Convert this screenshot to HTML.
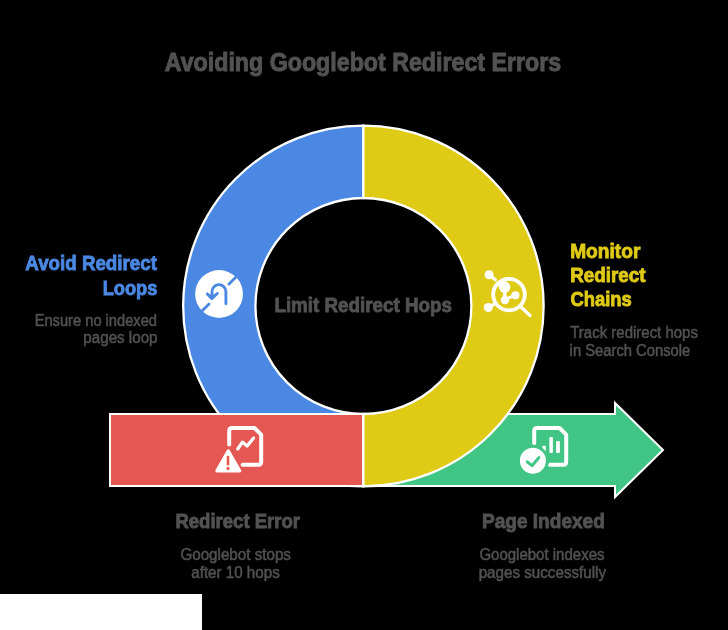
<!DOCTYPE html>
<html><head><meta charset="utf-8">
<style>
html,body{margin:0;padding:0;background:#000;width:728px;height:630px;overflow:hidden}
svg{position:absolute;left:0;top:0;display:block;will-change:transform}
text{font-family:"Liberation Sans",sans-serif}
.b{font-weight:bold}
</style></head>
<body>
<svg width="728" height="630" viewBox="0 0 728 630">
<rect x="0" y="0" width="728" height="630" fill="#000"/>
<path d="M363.4 125.7 A180.3 180.3 0 0 0 363.4 486.3 L363.4 414 A108 108 0 0 1 363.4 198 Z" fill="#4a88e3" stroke="#fff" stroke-width="2.3"/>
<rect x="110" y="414" width="253" height="72" fill="#e45753" stroke="#fff" stroke-width="2"/>
<path d="M363 414 H615 V403 L663 450 L615 497 V486 H363 Z" fill="#40c585" stroke="#fff" stroke-width="2"/>
<path d="M363.4 125.7 A180.3 180.3 0 0 1 363.4 486.3 L363.4 414 A108 108 0 0 0 363.4 198 Z" fill="#dfca16" stroke="#fff" stroke-width="2.3"/>
<!-- icon 1: no u-turn -->
<g>
<circle cx="219.05" cy="294" r="23.9" fill="#fff"/>
<g stroke="#4a88e3" stroke-width="2.9" stroke-linecap="round" fill="none">
<line x1="229" y1="284" x2="245" y2="268"/>
<line x1="209" y1="304" x2="193" y2="320"/>
<path d="M225.9 303.7 V291.6 A6.95 6.95 0 0 0 212 291.6 V298"/>
<path d="M207.4 293.9 L211.7 298.6 L217.3 293.5" stroke-linejoin="round"/>
<path d="M208.6 294.6 L211.7 298.4 L215.9 294.5 Z" fill="#4a88e3" stroke="none"/>
</g>
</g>
<!-- icon 2: magnifier with nodes -->
<g fill="#fff" stroke="#fff">
<circle cx="509" cy="294.6" r="15.8" fill="none" stroke-width="3.8"/>
<line x1="521.5" y1="307.5" x2="530" y2="315.5" stroke-width="3.4" stroke-linecap="round"/>
<circle cx="489.1" cy="274.7" r="4.5" stroke="none"/>
<line x1="489.1" y1="274.7" x2="495.3" y2="279.8" stroke-width="3.4" stroke-linecap="round"/>
<circle cx="488.3" cy="307.5" r="4.5" stroke="none"/>
<line x1="488.3" y1="307.5" x2="494.5" y2="304" stroke-width="3.4"/>
<circle cx="504.7" cy="287.2" r="5.6" stroke="none"/>
<circle cx="503.4" cy="285.6" r="5" stroke="none"/>
<circle cx="505" cy="300" r="4.2" stroke="none"/>
<circle cx="515.4" cy="295.3" r="4.1" stroke="none"/>
<line x1="504.6" y1="287.4" x2="505" y2="299.7" stroke-width="3.4"/>
<line x1="505" y1="299.7" x2="515.3" y2="295" stroke-width="3"/>
</g>
<!-- icon 3: doc + warning -->
<g>
<path d="M229.2 444.6 V431 Q229.2 428 232.2 428 H254.5 L261.2 434.7 V461.8 Q261.2 464.8 258.2 464.8 H242.6" fill="none" stroke="#fff" stroke-width="4" stroke-linecap="round" stroke-linejoin="round"/>
<path d="M237.7 449 L242.4 442.1 L247.1 446 L253.6 437.9" fill="none" stroke="#fff" stroke-width="3.2" stroke-linecap="round" stroke-linejoin="round"/>
<path d="M228.3 451 L239.6 470.8 L217 470.8 Z" fill="#fff" stroke="#fff" stroke-width="3.4" stroke-linejoin="round"/>
<line x1="228" y1="457" x2="228" y2="464.2" stroke="#e45753" stroke-width="2.6" stroke-linecap="round"/>
<circle cx="228" cy="468.4" r="1.6" fill="#e45753"/>
</g>
<!-- icon 4: doc + check -->
<g>
<path d="M534.2 443.3 V431 Q534.2 428 537.2 428 H559.5 L566.2 434.7 V461.8 Q566.2 464.8 563.2 464.8 H549.8" fill="none" stroke="#fff" stroke-width="4" stroke-linecap="round" stroke-linejoin="round"/>
<rect x="549.4" y="437" width="3.5" height="15.9" rx="1" fill="#fff"/>
<rect x="556.1" y="440.9" width="3.8" height="12" rx="1" fill="#fff"/>
<rect x="542.3" y="445.8" width="3.5" height="7" rx="1" fill="#fff"/>
<circle cx="532.9" cy="460.8" r="16" fill="#40c585"/>
<circle cx="532.9" cy="460.8" r="13" fill="#fff"/>
<path d="M527.3 461.9 L532 465.7 L538.9 457.6" fill="none" stroke="#40c585" stroke-width="3" stroke-linecap="round" stroke-linejoin="round"/>
</g>

<text class="b" x="164.81" y="70.70" font-size="26.7" fill="#525252" stroke="#525252" stroke-width="1.0" textLength="396.38" lengthAdjust="spacingAndGlyphs">Avoiding Googlebot Redirect Errors</text>
<text class="b" x="25.32" y="270.40" font-size="20.8" fill="#4a88e3" stroke="#4a88e3" stroke-width="0.9" textLength="131.56" lengthAdjust="spacingAndGlyphs">Avoid Redirect</text>
<text class="b" x="102.66" y="294.60" font-size="20.8" fill="#4a88e3" stroke="#4a88e3" stroke-width="0.9" textLength="54.73" lengthAdjust="spacingAndGlyphs">Loops</text>
<text x="34.68" y="325.80" font-size="15.6" fill="#525252" stroke="#525252" stroke-width="0.5" textLength="122.33" lengthAdjust="spacingAndGlyphs">Ensure no indexed</text>
<text x="83.37" y="343.30" font-size="15.6" fill="#525252" stroke="#525252" stroke-width="0.5" textLength="74.15" lengthAdjust="spacingAndGlyphs">pages loop</text>
<text class="b" x="570.18" y="258.20" font-size="20.8" fill="#dfca16" stroke="#dfca16" stroke-width="0.9" textLength="70.18" lengthAdjust="spacingAndGlyphs">Monitor</text>
<text class="b" x="570.25" y="282.10" font-size="20.8" fill="#dfca16" stroke="#dfca16" stroke-width="0.9" textLength="75.25" lengthAdjust="spacingAndGlyphs">Redirect</text>
<text class="b" x="570.59" y="306.00" font-size="20.8" fill="#dfca16" stroke="#dfca16" stroke-width="0.9" textLength="61.21" lengthAdjust="spacingAndGlyphs">Chains</text>
<text x="570.25" y="337.80" font-size="15.6" fill="#525252" stroke="#525252" stroke-width="0.5" textLength="127.70" lengthAdjust="spacingAndGlyphs">Track redirect hops</text>
<text x="569.60" y="355.80" font-size="15.6" fill="#525252" stroke="#525252" stroke-width="0.5" textLength="120.73" lengthAdjust="spacingAndGlyphs">in Search Console</text>
<text class="b" x="274.41" y="312.30" font-size="20.8" fill="#525252" stroke="#525252" stroke-width="0.9" textLength="177.53" lengthAdjust="spacingAndGlyphs">Limit Redirect Hops</text>
<text class="b" x="175.41" y="528.30" font-size="20.8" fill="#525252" stroke="#525252" stroke-width="0.9" textLength="124.65" lengthAdjust="spacingAndGlyphs">Redirect Error</text>
<text x="180.44" y="559.60" font-size="15.6" fill="#525252" stroke="#525252" stroke-width="0.5" textLength="110.53" lengthAdjust="spacingAndGlyphs">Googlebot stops</text>
<text x="191.27" y="577.50" font-size="15.6" fill="#525252" stroke="#525252" stroke-width="0.5" textLength="88.46" lengthAdjust="spacingAndGlyphs">after 10 hops</text>
<text class="b" x="481.93" y="528.30" font-size="20.8" fill="#525252" stroke="#525252" stroke-width="0.9" textLength="122.95" lengthAdjust="spacingAndGlyphs">Page Indexed</text>
<text x="479.38" y="559.60" font-size="15.6" fill="#525252" stroke="#525252" stroke-width="0.5" textLength="125.10" lengthAdjust="spacingAndGlyphs">Googlebot indexes</text>
<text x="478.68" y="577.50" font-size="15.6" fill="#525252" stroke="#525252" stroke-width="0.5" textLength="127.41" lengthAdjust="spacingAndGlyphs">pages successfully</text>
<rect x="0" y="594" width="202" height="36" fill="#fff"/>
</svg>
</body></html>
